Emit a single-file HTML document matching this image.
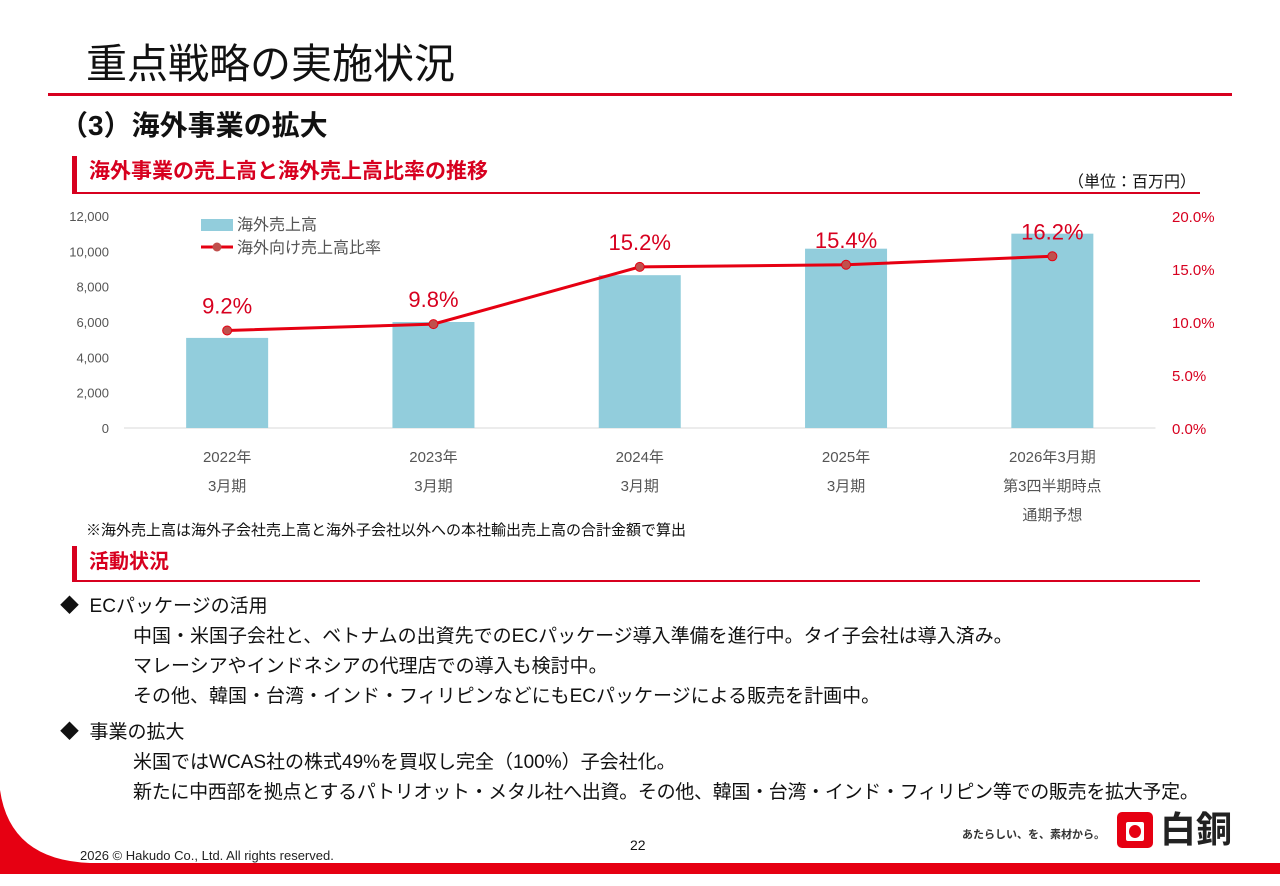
<!DOCTYPE html>
<html><head><meta charset="utf-8"><style>
body{margin:0;width:1280px;height:886px;position:relative;background:#fff;overflow:hidden;font-family:"Liberation Sans","Noto Sans CJK JP",sans-serif;color:#111}
.a{position:absolute;white-space:nowrap}
.sec{position:absolute;border-left:5px solid #d7001f;border-bottom:2px solid #d7001f;color:#d7001f;font-weight:bold;font-size:19px;padding-left:12px;box-sizing:border-box}
.body{font-size:19px;line-height:30px}
</style></head><body>
<div class="a" style="left:86px;top:30px;font-size:41px;color:#111">重点戦略の実施状況</div>
<div class="a" style="left:48px;top:93px;width:1184px;height:3px;background:#d7001f"></div>
<div class="a" style="left:60px;top:104px;font-size:28px;font-weight:bold">（3）海外事業の拡大</div>
<div class="sec" style="left:72px;top:156px;width:1128px;height:38px;line-height:32px;font-size:21px">海外事業の売上高と海外売上高比率の推移</div>
<div class="a" style="left:1068px;top:168px;font-size:16px">（単位：百万円）</div>
<svg class="a" style="left:0;top:200px" width="1280" height="330" id="ch"></svg>
<div class="a" style="left:86px;top:519px;font-size:15px">※海外売上高は海外子会社売上高と海外子会社以外への本社輸出売上高の合計金額で算出</div>
<div class="sec" style="left:72px;top:546px;width:1128px;height:36px;line-height:32px;font-size:20px">活動状況</div>
<div class="a body" style="left:60px;top:592px">
<div>◆&nbsp; ECパッケージの活用</div>
<div style="padding-left:73px">中国・米国子会社と、ベトナムの出資先でのECパッケージ導入準備を進行中。タイ子会社は導入済み。</div>
<div style="padding-left:73px">マレーシアやインドネシアの代理店での導入も検討中。</div>
<div style="padding-left:73px">その他、韓国・台湾・インド・フィリピンなどにもECパッケージによる販売を計画中。</div>
<div style="margin-top:6px">◆&nbsp; 事業の拡大</div>
<div style="padding-left:73px">米国ではWCAS社の株式49%を買収し完全（100%）子会社化。</div>
<div style="padding-left:73px;letter-spacing:-0.3px">新たに中西部を拠点とするパトリオット・メタル社へ出資。その他、韓国・台湾・インド・フィリピン等での販売を拡大予定。</div>
</div>
<div class="a" style="left:630px;top:837px;font-size:14px">22</div>
<svg class="a" style="left:0;top:790px" width="1280" height="96"><path d="M0 0 Q10 70 90 73 L1280 73 L1280 84 L0 84 Z" fill="#e60012"/></svg>
<div class="a" style="left:80px;top:848px;font-size:13px;color:#222">2026 © Hakudo Co., Ltd. All rights reserved.</div>
<div class="a" style="left:962px;top:826px;font-size:11px;font-weight:bold;color:#333">あたらしい、を、素材から。</div>
<div class="a" style="left:1117px;top:812px;width:36px;height:36px;background:#e60012;border-radius:5px"><div style="position:absolute;left:9px;top:10px;width:18px;height:19px;background:#fff;border-radius:2px"></div><div style="position:absolute;left:12px;top:13px;width:12px;height:13px;background:#e60012;border-radius:50%"></div></div>
<div class="a" style="left:1160px;top:810px;font-size:36px;font-weight:bold;color:#222;line-height:40px">白銅</div>
<script>
const categories=[["2022年","3月期"],["2023年","3月期"],["2024年","3月期"],["2025年","3月期"],["2026年3月期","第3四半期時点","通期予想"]];
const sales=[5100,6000,8650,10150,11000];
const ratio=[9.2,9.8,15.2,15.4,16.2];
const leftTicks=[0,2000,4000,6000,8000,10000,12000];
const rightTicks=[0,5,10,15,20];
const svg=document.getElementById('ch');const NS='http://www.w3.org/2000/svg';
const y0=228,h=212,x0=124,step=206.3;
const yL=v=>y0-v/12000*h, yR=v=>y0-v/20*h, xC=i=>x0+step*(i+0.5);
function mk(t,a,p){const e=document.createElementNS(NS,t);for(const k in a)e.setAttribute(k,a[k]);(p||svg).appendChild(e);return e;}
function tx(x,y,s,a){const e=mk('text',Object.assign({x:x,y:y,'font-family':'Liberation Sans, Noto Sans CJK JP, sans-serif'},a));e.textContent=s;return e;}
leftTicks.forEach(v=>{const t=tx(109,yL(v)+5,v.toLocaleString('en-US'),{'text-anchor':'end','font-size':13,fill:'#555'});

});
rightTicks.forEach(v=>{const t=tx(1172,yR(v)+6,v.toFixed(1)+'%',{'font-size':15,fill:'#d7001f'});

});
mk('line',{x1:x0,x2:x0+step*5,y1:y0,y2:y0,stroke:'#d9d9d9'});
sales.forEach((v,i)=>{const r=mk('rect',{x:xC(i)-41,y:yL(v),width:82,height:y0-yL(v),fill:'#92cddc'});

});
mk('polyline',{points:ratio.map((v,i)=>xC(i)+','+yR(v)).join(' '),fill:'none',stroke:'#e60012','stroke-width':3});
ratio.forEach((v,i)=>{const c=mk('circle',{cx:xC(i),cy:yR(v),r:4.5,fill:'#c0504d',stroke:'#e60012','stroke-width':1});


const l=tx(xC(i),yR(v)-17,v.toFixed(1)+'%',{'text-anchor':'middle','font-size':22,fill:'#d7001f'});

});
categories.forEach((c,i)=>c.forEach((s,j)=>{const t=tx(xC(i),262+j*29,s,{'text-anchor':'middle','font-size':15,fill:'#555'});

}));
const lg=mk('rect',{x:201,y:19,width:32,height:12,fill:'#92cddc'});


tx(237,30,'海外売上高',{'font-size':16,fill:'#555'});
mk('line',{x1:201,x2:233,y1:47,y2:47,stroke:'#e60012','stroke-width':3});
mk('circle',{cx:217,cy:47,r:4.5,fill:'#c0504d'});
tx(237,53,'海外向け売上高比率',{'font-size':16,fill:'#555'});
</script>
</body></html>
